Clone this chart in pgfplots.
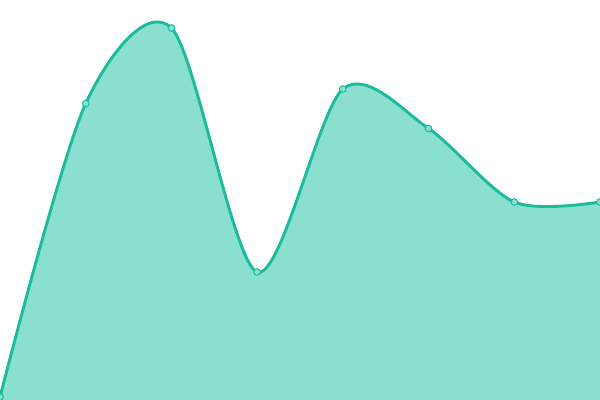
\documentclass[border=0pt]{standalone}
\usepackage{pgfplots}
\pgfplotsset{compat=1.18}

\definecolor{lineteal}{HTML}{1ABC9C}
\definecolor{fillteal}{HTML}{8ADFCE}

\pgfplotstableread{
x y
0 3
1 296.5
2 372
3 128
4 311
5 271.5
6 198
7 198
}\series

\begin{document}
\begin{tikzpicture}
\begin{axis}[
    hide axis,
    scale only axis,
    width=6in, height=4in,
    xmin=0, xmax=7,
    ymin=0, ymax=400,
    clip=true,
    clip marker paths=true,
]
  \addplot[fill=fillteal, draw=none, smooth, tension=0.5] table {\series} \closedcycle;
  \addplot[lineteal, line width=2.1pt, smooth, tension=0.5,
    mark=*, mark size=2.4pt,
    mark options={fill=fillteal, draw=lineteal, line width=0.7pt}] table {\series};
\end{axis}
\pgfresetboundingbox
\path[use as bounding box] (0,0) rectangle (6in,4in);
\end{tikzpicture}
\end{document}
